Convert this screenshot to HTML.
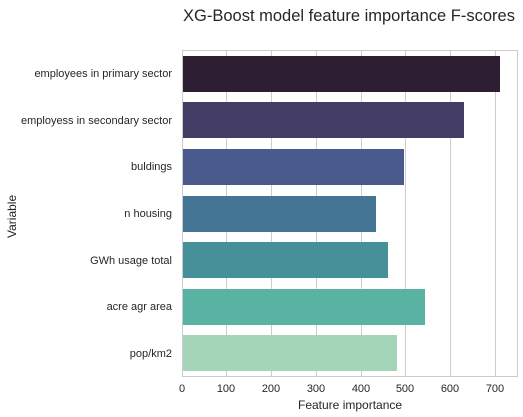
<!DOCTYPE html>
<html><head><style>
body{margin:0;width:523px;height:417px;background:#fff;position:relative;overflow:hidden;font-family:"Liberation Sans",sans-serif;color:#262626}
.t{position:absolute;white-space:nowrap}
.lbl{position:absolute;right:351px;font-size:11px;text-align:right;white-space:nowrap}
.bar{position:absolute;left:183px;height:36px}
.g{position:absolute;top:51px;height:325px;width:1px;background:#cccccc}
.tk{position:absolute;top:383px;font-size:11px;width:40px;text-align:center}
</style></head><body>
<div class="t" style="left:183px;top:7px;font-size:16.5px">XG-Boost model feature importance F-scores</div>
<div style="position:absolute;left:182px;top:50px;width:334px;height:325px;border:1px solid #cccccc;box-sizing:content-box"></div>
<div class="g" style="left:226px"></div><div class="g" style="left:271px"></div><div class="g" style="left:316px"></div><div class="g" style="left:361px"></div><div class="g" style="left:405px"></div><div class="g" style="left:450px"></div><div class="g" style="left:495px"></div>
<div class="bar" style="top:56px;width:317px;background:#2d1f31"></div>
<div class="bar" style="top:102px;width:281px;background:#433c65"></div>
<div class="bar" style="top:149px;width:221px;background:#4a5a8c"></div>
<div class="bar" style="top:196px;width:193px;background:#447594"></div>
<div class="bar" style="top:242px;width:205px;background:#46909a"></div>
<div class="bar" style="top:289px;width:242px;background:#59b3a2"></div>
<div class="bar" style="top:335px;width:214px;background:#a4d5b8"></div>
<div class="lbl" style="top:68px">employees in primary sector</div>
<div class="lbl" style="top:115px">employess in secondary sector</div>
<div class="lbl" style="top:161px">buldings</div>
<div class="lbl" style="top:208px">n housing</div>
<div class="lbl" style="top:255px">GWh usage total</div>
<div class="lbl" style="top:301px">acre agr area</div>
<div class="lbl" style="top:348px">pop/km2</div>
<div class="t" style="font-size:12px;transform:rotate(-90deg);transform-origin:left top;top:238px;left:5px">Variable</div>
<div class="tk" style="left:162px">0</div><div class="tk" style="left:206px">100</div><div class="tk" style="left:251px">200</div><div class="tk" style="left:296px">300</div><div class="tk" style="left:341px">400</div><div class="tk" style="left:385px">500</div><div class="tk" style="left:430px">600</div><div class="tk" style="left:475px">700</div>
<div class="t" style="left:298px;top:398px;font-size:12px">Feature importance</div>
</body></html>
